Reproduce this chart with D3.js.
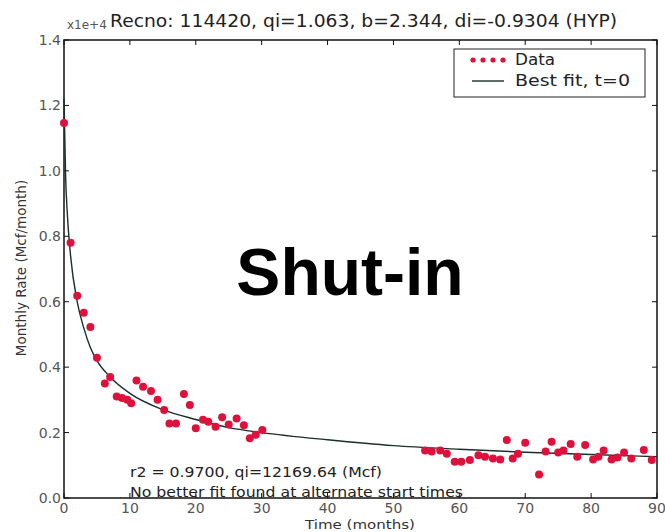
<html>
<head>
<style>
body { margin: 0; background: #fff; }
svg text { font-family: "DejaVu Sans", sans-serif; }
</style>
</head>
<body>
<script src="https://d3js.org/d3.v7.min.js"></script>
<script>

// monthly rate, units of 1e4 Mcf/month
const dataT = [0, 1, 2, 3, 4, 5, 6.2, 7, 8, 8.8, 9.6, 10.2, 11, 12, 13.2, 14.2, 15.2, 16, 17, 18.2, 19.1, 20,
    21.1, 21.9, 23, 24, 25, 26.2, 27.3, 28.2, 29.1, 30.1,
    54.8, 55.8, 57.1, 58.1, 59.3, 60.3, 61.6, 62.9, 63.9, 65.1, 66.2, 67.2, 68.1, 68.9, 70, 72.1, 73.1, 74,
    75, 75.8, 76.9, 77.9, 79.1, 80.3, 81.1, 81.9, 83.1, 84, 85, 86.1, 88, 89.2];
const dataQ = [1.146, 0.78, 0.618, 0.566, 0.523, 0.429, 0.35, 0.37, 0.31, 0.306, 0.30, 0.29, 0.359, 0.34, 0.327, 0.30, 0.269, 0.228, 0.228, 0.318, 0.284, 0.213,
    0.239, 0.233, 0.218, 0.247, 0.225, 0.243, 0.222, 0.183, 0.193, 0.208,
    0.145, 0.142, 0.145, 0.135, 0.111, 0.111, 0.116, 0.131, 0.126, 0.121, 0.118, 0.177, 0.121, 0.135, 0.169, 0.072, 0.142, 0.172,
    0.139, 0.145, 0.165, 0.126, 0.162, 0.118, 0.126, 0.145, 0.118, 0.124, 0.139, 0.121, 0.147, 0.116];

// best fit line, read at a few times
const fitT = [0, 0.25, 0.5, 1, 2, 3, 4, 5, 7, 10, 15, 20, 25, 30, 40, 50, 60, 70, 80, 90];
const fitQ = [1.22, 0.98, 0.87, 0.74, 0.60, 0.52, 0.46, 0.42, 0.37, 0.32, 0.27, 0.24, 0.215, 0.20, 0.178, 0.16, 0.149, 0.14, 0.133, 0.126];

const xTicks = [0, 10, 20, 30, 40, 50, 60, 70, 80, 90];
const yTicks = [0, 0.2, 0.4, 0.6, 0.8, 1.0, 1.2, 1.4];

const titleText = 'Recno: 114420, qi=1.063, b=2.344, di=-0.9304 (HYP)';
const noteLines = ['r2 = 0.9700, qi=12169.64 (Mcf)', 'No better fit found at alternate start times'];
const noteWidths = [252, 333];

const W = 665, H = 532;
const pLeft = 64, pRight = 657, pTop = 40, pBottom = 498;

const svg = d3.select('body').append('svg')
    .attr('width', W)
    .attr('height', H);

const x = d3.scaleLinear().domain([0, 90]).range([pLeft, pRight]);
const y = d3.scaleLinear().domain([0, 1.4]).range([pBottom, pTop]);

// frame
svg.append('rect')
    .attr('x', pLeft).attr('y', pTop)
    .attr('width', pRight - pLeft).attr('height', pBottom - pTop)
    .attr('fill', 'none').attr('stroke', '#111').attr('stroke-width', 1.5);

// inward ticks, all four sides
const tickLen = 5;
svg.append('g').selectAll('line').data(xTicks).join('line')
    .attr('x1', d => x(d)).attr('x2', d => x(d))
    .attr('y1', pBottom).attr('y2', pBottom - tickLen)
    .attr('stroke', '#111');
svg.append('g').selectAll('line').data(xTicks).join('line')
    .attr('x1', d => x(d)).attr('x2', d => x(d))
    .attr('y1', pTop).attr('y2', pTop + tickLen)
    .attr('stroke', '#111');
svg.append('g').selectAll('line').data(yTicks).join('line')
    .attr('x1', pLeft).attr('x2', pLeft + tickLen)
    .attr('y1', d => y(d)).attr('y2', d => y(d))
    .attr('stroke', '#111');
svg.append('g').selectAll('line').data(yTicks).join('line')
    .attr('x1', pRight).attr('x2', pRight - tickLen)
    .attr('y1', d => y(d)).attr('y2', d => y(d))
    .attr('stroke', '#111');

// tick labels
svg.append('g').selectAll('text').data(xTicks).join('text')
    .attr('x', d => x(d)).attr('y', pBottom + 15)
    .attr('text-anchor', 'middle')
    .attr('font-size', 14).attr('fill', '#555')
    .text(d => d);
svg.append('g').selectAll('text').data(yTicks).join('text')
    .attr('x', pLeft - 3).attr('y', d => y(d) + 5)
    .attr('text-anchor', 'end')
    .attr('font-size', 14).attr('fill', '#555')
    .text(d => d.toFixed(1));

svg.append('text')
    .attr('x', pLeft + 3).attr('y', 29)
    .attr('font-size', 12).attr('fill', '#555')
    .text('x1e+4');

// title
svg.append('text')
    .attr('x', 110).attr('y', 27)
    .attr('font-size', 17)
    .attr('textLength', 507).attr('lengthAdjust', 'spacingAndGlyphs')
    .attr('fill', '#222')
    .text(titleText);

// axis labels
svg.append('text')
    .attr('x', 360).attr('y', 529)
    .attr('text-anchor', 'middle')
    .attr('font-size', 12).attr('fill', '#333')
    .attr('textLength', 110).attr('lengthAdjust', 'spacingAndGlyphs')
    .text('Time (months)');
svg.append('text')
    .attr('transform', 'translate(26,268) rotate(-90)')
    .attr('text-anchor', 'middle')
    .attr('font-size', 13.5).attr('fill', '#333')
    .text('Monthly Rate (Mcf/month)');

// fit line
const line = d3.line()
    .x((d, i) => x(fitT[i]))
    .y(d => y(d))
    .curve(d3.curveMonotoneX);
svg.append('path')
    .datum(fitQ)
    .attr('d', line)
    .attr('fill', 'none')
    .attr('stroke', '#1c2e28')
    .attr('stroke-width', 1.4);

// data points
svg.append('g').selectAll('circle').data(dataQ).join('circle')
    .attr('cx', (d, i) => x(dataT[i]))
    .attr('cy', d => y(d))
    .attr('r', 4)
    .attr('fill', '#e0103c');

// legend
const lg = svg.append('g');
lg.append('rect')
    .attr('x', 454).attr('y', 49).attr('width', 191).attr('height', 48)
    .attr('fill', '#fff').attr('stroke', '#222').attr('stroke-width', 1);
lg.selectAll('circle').data([0, 1, 2, 3]).join('circle')
    .attr('cx', d => 473 + d * 10).attr('cy', 60)
    .attr('r', 2.6).attr('fill', '#e0103c');
lg.append('text').attr('x', 515).attr('y', 65)
    .attr('font-size', 16).attr('fill', '#222')
    .attr('textLength', 40).attr('lengthAdjust', 'spacingAndGlyphs')
    .text('Data');
lg.append('line')
    .attr('x1', 472).attr('x2', 504).attr('y1', 81).attr('y2', 81)
    .attr('stroke', '#1c2e28').attr('stroke-width', 1.4);
lg.append('text').attr('x', 515).attr('y', 86)
    .attr('font-size', 16).attr('fill', '#222')
    .attr('textLength', 115).attr('lengthAdjust', 'spacingAndGlyphs')
    .text('Best fit, t=0');

// annotation
svg.append('g').selectAll('text').data(noteLines).join('text')
    .attr('x', 130).attr('y', (d, i) => 477 + i * 20)
    .attr('font-size', 14).attr('fill', '#222')
    .attr('textLength', (d, i) => noteWidths[i]).attr('lengthAdjust', 'spacingAndGlyphs')
    .text(d => d);

// stamp
svg.append('text')
    .attr('x', 350).attr('y', 295)
    .attr('text-anchor', 'middle')
    .style('font-family', '"Liberation Sans", Arial, sans-serif')
    .attr('font-weight', 'bold')
    .attr('font-size', 66)
    .attr('fill', '#000')
    .text('Shut-in');

</script>
</body>
</html>
